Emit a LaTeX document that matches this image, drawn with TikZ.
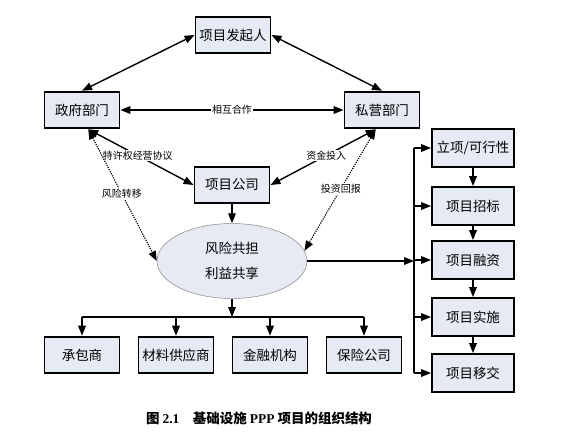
\documentclass[tikz,border=0pt]{standalone}
\usepackage{fontspec}
\setmainfont{Noto Sans CJK SC}
\newfontfamily\latin{Liberation Serif}
\usepackage{xcolor}
\usetikzlibrary{arrows.meta,shapes.geometric}
\definecolor{boxfill}{HTML}{E6EAF3}

\begin{document}
\begin{tikzpicture}[
  x=0.03cm, y=-0.03cm,
  >={Triangle[length=3mm,width=2.3mm]},
  box/.style={draw, line width=1.6pt, fill=boxfill, minimum width=2.25cm,
    minimum height=1.1cm, inner sep=0pt, font=\fontsize{11.5}{13}\selectfont},
  stagebox/.style={box, minimum width=2.46cm, minimum height=1.14cm},
  link/.style={<->, line width=1.2pt},
  flow/.style={->, line width=1.2pt},
  risk/.style={<->, line width=1pt, densely dotted},
  lbl/.style={font=\fontsize{8.5}{10}\selectfont, fill=white, inner sep=1pt}
]
\useasboundingbox (0,0) rectangle (576,435);

%========== parties ==========
\node[box] (sponsor) at (233,35) {项目发起人};
\node[box] (gov) at (82,110) {政府部门};
\node[box] (priv) at (382,110) {私营部门};
\node[box] (spv) at (232,185) {项目公司};
\node[ellipse, draw=gray, thin, fill=boxfill, minimum width=4.5cm, minimum height=2.25cm,
  align=center, font=\fontsize{11.5}{21}\selectfont] (share) at (232,261) {风险共担\\利益共享};

\draw[link] (sponsor.west) -- (gov.north);
\draw[link] (sponsor.east) -- (priv.north);
\draw[link] (gov) -- node[lbl]{相互合作} (priv);
\draw[link] (gov.-72) -- node[lbl,pos=0.47]{特许权经营协议} (spv.west);
\draw[link] (priv.-108) -- node[lbl,pos=0.47]{资金投入} (spv.east);
\draw[risk] (gov.-72) -- node[lbl,pos=0.49]{风险转移} (share.west);
\draw[risk] (priv.-108) -- node[lbl,pos=0.49]{投资回报} (share.8);
\draw[flow] (spv) -- (share);

%========== participants ==========
\coordinate (bus) at (232,317);
\foreach \nm/\x/\txt in {contr/82/承包商, supply/176/材料供应商, fin/270/金融机构, insure/364/保险公司}{
  \node[box] (\nm) at (\x,355) {\txt};}
\draw[flow] (share) -- (bus);
\draw[line width=1.2pt] (contr |- bus) -- (insure |- bus);
\foreach \nm in {contr,supply,fin,insure}{\draw[flow] (\nm |- bus) -- (\nm);}

%========== project stages ==========
\foreach \i/\y/\txt in {1/148/{立项/可行性}, 2/206/项目招标, 3/260/项目融资, 4/317/项目实施, 5/373/项目移交}{
  \node[stagebox] (s\i) at (473,\y) {\txt};}
\foreach \i/\j in {1/2,2/3,3/4,4/5}{\draw[flow] (s\i) -- (s\j);}
\coordinate (spine) at (414,0);
\draw[line width=1.2pt] (spine |- s1) -- (spine |- s5);
\foreach \i in {1,...,5}{\draw[flow] (spine |- s\i) -- (s\i.west);}
\draw[flow] (share.east) -- (spine |- share.east);

\node[font=\fontsize{11.5}{13}\selectfont\bfseries] (cap) at (259,418)
  {图 {\latin 2.1}\quad 基础设施 {\latin PPP} 项目的组织结构};
\end{tikzpicture}
\end{document}
